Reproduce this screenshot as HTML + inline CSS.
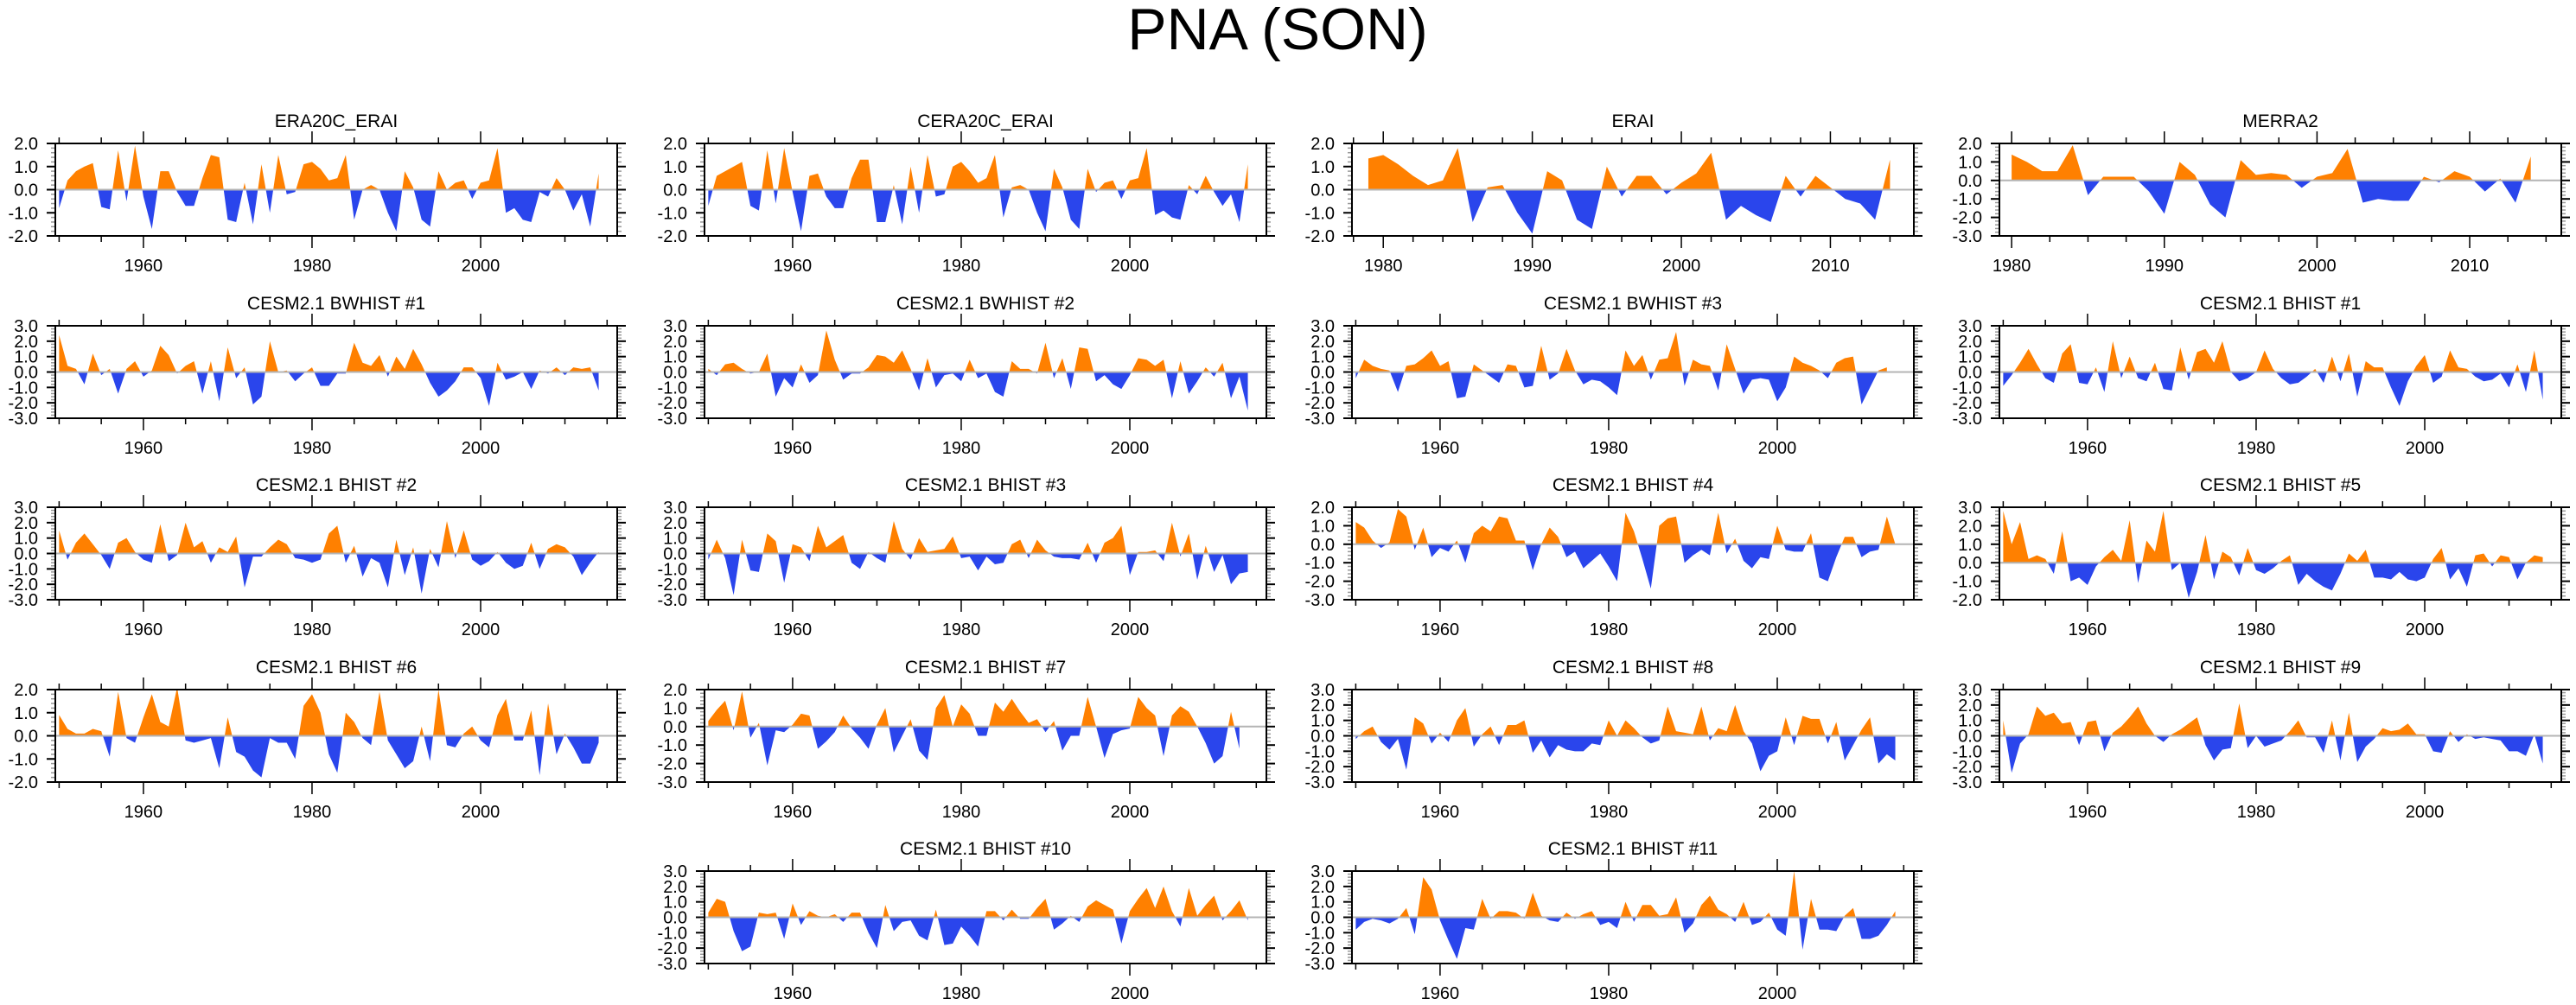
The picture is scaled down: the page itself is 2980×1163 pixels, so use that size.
<!DOCTYPE html>
<html><head><meta charset="utf-8"><title>PNA (SON)</title>
<style>
html,body{margin:0;padding:0;background:#fff;}
svg{display:block;font-family:"Liberation Sans",sans-serif;}
</style></head>
<body>
<svg id="fig" width="2980" height="1163" viewBox="0 0 2980 1163" xmlns="http://www.w3.org/2000/svg">
<rect width="2980" height="1163" fill="#fff"/>
<text x="1478" y="57" font-size="68" text-anchor="middle" fill="#000">PNA (SON)</text>
</svg>
<script>
// ---- data (one value per year) ----
const era20cYears0 = 1950;
const era20cValues = [-0.8,0.4,0.8,1.0,1.15,-0.75,-0.85,1.7,-0.5,1.9,-0.3,-1.7,0.8,0.8,-0.1,-0.7,-0.7,0.5,1.5,1.4,-1.3,-1.4,0.3,-1.5,1.1,-1.0,1.5,-0.2,-0.1,1.1,1.2,0.9,0.4,0.5,1.5,-1.3,0.0,0.2,0.0,-1.0,-1.8,0.8,0.1,-1.3,-1.6,0.8,0.0,0.3,0.4,-0.4,0.3,0.4,1.8,-1.0,-0.8,-1.3,-1.4,-0.1,-0.3,0.5,0.0,-0.9,-0.2,-1.6,0.7];
const cera20cValues = [-0.7,0.6,0.8,1.0,1.2,-0.7,-0.9,1.7,-0.6,1.8,-0.1,-1.8,0.6,0.7,-0.3,-0.8,-0.8,0.5,1.3,1.3,-1.4,-1.4,0.2,-1.5,1.0,-1.0,1.5,-0.3,-0.2,1.0,1.2,0.8,0.3,0.5,1.5,-1.2,0.1,0.2,0.0,-1.0,-1.8,0.9,0.1,-1.3,-1.7,0.9,-0.1,0.3,0.4,-0.4,0.4,0.5,1.8,-1.1,-0.9,-1.2,-1.3,0.2,-0.2,0.6,-0.1,-0.7,-0.2,-1.4,1.1];
const eraiValues = [1.35,1.5,1.1,0.6,0.2,0.4,1.8,-1.4,0.1,0.2,-1.0,-1.9,0.8,0.4,-1.3,-1.7,1.0,-0.3,0.6,0.6,-0.2,0.3,0.7,1.6,-1.3,-0.7,-1.1,-1.4,0.6,-0.3,0.6,0.1,-0.4,-0.6,-1.3,1.3];
const merra2Values = [1.4,1.0,0.5,0.5,1.9,-0.8,0.2,0.2,0.2,-0.6,-1.8,1.0,0.3,-1.3,-2.0,1.1,0.3,0.4,0.3,-0.4,0.2,0.4,1.7,-1.2,-1.0,-1.1,-1.1,0.2,-0.1,0.5,0.2,-0.6,0.1,-1.2,1.3];
const bwhist1Values = [2.4,0.4,0.2,-0.8,1.2,-0.2,0.2,-1.4,0.2,0.7,-0.3,0.1,1.7,1.1,-0.1,0.4,0.7,-1.4,0.7,-1.9,1.6,-0.4,0.3,-2.1,-1.6,2.0,0.0,0.1,-0.6,-0.1,0.3,-0.9,-0.9,-0.1,-0.1,1.9,0.6,0.4,1.1,-0.3,1.0,0.2,1.5,0.5,-0.7,-1.6,-1.2,-0.6,0.3,0.3,-0.4,-2.2,0.6,-0.5,-0.3,0.0,-1.1,0.1,-0.1,0.3,-0.2,0.3,0.2,0.3,-1.2];
const bwhist2Values = [0.2,-0.2,0.5,0.6,0.2,-0.1,0.0,1.2,-1.6,-0.4,-1.0,0.5,-0.7,-0.2,2.7,0.8,-0.5,-0.1,-0.1,0.3,1.1,1.0,0.6,1.4,0.2,-1.2,0.9,-1.0,-0.2,-0.1,-0.6,0.8,-0.4,-0.1,-1.3,-1.6,0.7,0.2,0.2,-0.1,1.9,-0.4,0.9,-1.1,1.6,1.5,-0.6,-0.2,-0.8,-1.1,-0.2,0.9,0.8,0.4,0.8,-1.7,0.7,-1.4,-0.6,0.3,-0.3,0.6,-1.7,-0.3,-2.5];
const bwhist3Values = [-0.4,0.8,0.4,0.2,0.1,-1.3,0.4,0.5,0.9,1.4,0.4,0.7,-1.7,-1.6,0.5,0.1,-0.3,-0.7,0.5,0.4,-1.0,-0.9,1.7,-0.5,-0.1,1.5,0.1,-0.8,-0.5,-0.6,-1.0,-1.5,1.4,0.4,1.1,-0.5,0.8,0.9,2.6,-0.9,0.8,0.5,0.4,-1.2,1.8,0.2,-1.4,-0.5,-0.4,-0.5,-1.9,-1.0,1.0,0.6,0.4,0.1,-0.4,0.6,0.9,1.0,-2.1,-1.0,0.1,0.3];
const bhist1Values = [-0.9,-0.2,0.6,1.5,0.5,-0.4,-0.7,1.2,1.8,-0.7,-0.8,0.3,-1.3,2.0,-0.4,1.0,-0.4,-0.6,0.6,-1.1,-1.2,1.6,-0.5,1.3,1.5,0.6,2.0,0.0,-0.6,-0.4,0.0,1.4,0.2,-0.4,-0.8,-0.7,-0.3,0.2,-0.7,1.0,-0.6,1.2,-1.6,0.7,0.3,0.3,-1.0,-2.2,-0.6,0.4,1.1,-0.7,-0.3,1.4,0.3,0.2,-0.3,-0.6,-0.5,-0.1,-1.0,0.5,-1.3,1.4,-1.8];
const bhist2Values = [1.5,-0.4,0.7,1.3,0.6,-0.1,-1.0,0.7,1.0,0.1,-0.4,-0.6,1.9,-0.5,-0.1,2.0,0.4,0.8,-0.6,0.4,0.1,1.1,-2.2,-0.2,-0.2,0.4,0.9,0.6,-0.3,-0.4,-0.6,-0.4,1.3,1.8,-0.6,0.5,-1.5,-0.3,-0.6,-2.2,0.9,-1.4,0.4,-2.6,0.3,-0.9,2.1,-0.3,1.5,-0.4,-0.8,-0.5,0.1,-0.6,-1.0,-0.8,0.7,-1.0,0.3,0.6,0.4,-0.2,-1.4,-0.6,0.1];
const bhist3Values = [-0.4,0.9,-0.3,-2.7,0.9,-1.1,-1.2,1.3,0.8,-1.9,0.6,0.4,-0.5,1.8,0.4,0.8,1.2,-0.6,-1.0,0.1,-0.3,-0.6,2.1,0.3,-0.4,1.0,0.1,0.2,0.3,1.1,-0.3,-0.2,-1.1,-0.2,-0.7,-0.6,0.6,0.9,-0.3,0.9,0.2,-0.2,-0.3,-0.3,-0.4,0.7,-0.6,0.7,1.0,1.8,-1.4,0.1,0.1,0.2,-0.5,2.0,-0.2,1.3,-1.7,0.5,-1.2,-0.1,-2.0,-1.3,-1.2];
const bhist4Values = [1.2,0.9,0.2,-0.2,0.1,1.9,1.5,-0.3,0.9,-0.7,-0.2,-0.4,0.2,-1.0,0.6,1.0,0.7,1.5,1.4,0.2,0.2,-1.4,0.0,0.9,0.4,-0.7,-0.4,-1.3,-0.9,-0.5,-1.2,-2.0,1.7,0.7,-0.8,-2.4,1.0,1.4,1.5,-1.0,-0.6,-0.3,-0.6,1.7,-0.5,0.3,-0.9,-1.3,-0.7,-0.8,1.0,-0.3,-0.4,-0.4,0.6,-1.8,-2.0,-0.7,0.4,0.4,-0.7,-0.4,-0.3,1.5,0.0];
const bhist5Values = [2.8,1.0,2.2,0.2,0.4,0.2,-0.6,1.7,-1.0,-0.8,-1.2,-0.2,0.3,0.7,0.1,2.3,-1.1,1.2,0.6,2.8,-0.4,0.0,-1.9,-0.5,1.5,-0.9,0.6,0.3,-0.7,0.8,-0.4,-0.6,-0.3,0.1,0.4,-1.2,-0.6,-1.0,-1.3,-1.5,-0.6,0.5,0.1,0.7,-0.8,-0.8,-0.9,-0.5,-0.9,-1.0,-0.8,0.2,0.8,-0.9,-0.3,-1.3,0.4,0.5,-0.2,0.4,0.3,-0.9,0.0,0.4,0.3];
const bhist6Values = [0.9,0.3,0.1,0.1,0.3,0.2,-0.9,1.9,-0.1,-0.3,0.8,1.8,0.6,0.4,2.1,-0.2,-0.3,-0.2,-0.1,-1.4,0.8,-0.7,-0.9,-1.5,-1.8,-0.1,-0.3,-0.3,-1.0,1.3,1.8,1.0,-0.8,-1.6,1.0,0.6,-0.1,-0.4,1.9,-0.2,-0.8,-1.4,-1.1,0.4,-1.1,2.0,-0.4,-0.5,0.1,0.4,-0.2,-0.5,0.9,1.6,-0.2,-0.2,1.1,-1.7,1.4,-0.8,0.1,-0.5,-1.2,-1.2,-0.3];
const bhist7Values = [0.3,0.9,1.4,-0.2,1.9,-0.6,0.2,-2.1,-0.2,-0.3,0.1,0.7,0.6,-1.2,-0.8,-0.3,0.6,-0.1,-0.6,-1.2,0.1,1.0,-1.4,-0.5,0.4,-1.3,-1.8,1.0,1.7,0.0,1.2,0.7,-0.5,-0.5,1.3,0.8,1.5,0.8,0.2,0.4,-0.3,0.3,-1.3,-0.5,-0.5,1.6,0.0,-1.7,-0.4,-0.2,-0.1,1.6,1.0,0.6,-1.6,0.6,1.1,0.8,0.0,-0.9,-2.0,-1.6,0.8,-1.2];
const bhist8Values = [-0.2,0.3,0.6,-0.4,-0.9,-0.2,-2.2,1.2,0.8,-0.5,0.2,-0.4,1.0,1.8,-0.7,0.1,0.6,-0.6,0.7,0.7,1.0,-1.1,-0.3,-1.4,-0.6,-0.9,-1.0,-1.0,-0.5,-0.6,1.0,0.0,1.0,0.5,-0.1,-0.5,-0.3,1.9,0.3,0.2,0.1,1.9,-0.3,0.5,0.3,2.0,0.3,-0.5,-2.3,-1.3,-1.0,1.2,-0.6,1.3,1.1,1.1,-0.5,0.9,-1.6,-0.6,0.4,1.2,-1.8,-1.2,-1.6];
const bhist9Values = [1.0,-2.4,-0.5,0.1,1.9,1.3,1.5,0.8,0.9,-0.6,0.9,1.0,-1.0,0.2,0.6,1.2,1.9,0.8,0.0,-0.4,0.1,0.4,0.8,1.2,-0.6,-1.6,-0.9,-0.8,2.1,-0.8,0.0,-0.7,-0.5,-0.3,0.3,1.0,-0.1,-0.1,-1.1,1.0,-1.6,1.5,-1.7,-0.7,-0.2,0.5,0.3,0.4,0.8,0.1,0.1,-1.0,-1.1,0.3,-0.4,0.1,-0.2,-0.1,-0.2,-0.3,-1.0,-1.0,-1.3,0.1,-1.8];
const bhist10Values = [0.3,1.2,1.0,-0.9,-2.2,-1.9,0.3,0.2,0.3,-1.4,0.9,-0.5,0.4,0.1,0.0,0.2,-0.3,0.3,0.3,-1.0,-2.0,0.8,-0.9,-0.3,-0.2,-1.2,-1.5,0.5,-1.8,-1.7,-0.6,-1.2,-1.9,0.4,0.4,-0.2,0.5,-0.1,-0.1,0.6,1.2,-0.8,-0.4,0.1,-0.3,0.7,1.1,0.8,0.5,-1.7,0.4,1.2,1.9,0.6,2.0,0.4,-0.6,1.9,0.1,0.8,1.4,-0.2,0.4,1.1,-0.2];
const bhist11Values = [-0.8,-0.3,-0.1,-0.2,-0.4,-0.1,0.6,-1.1,2.6,1.8,-0.2,-1.5,-2.7,-0.7,-0.8,1.2,-0.1,0.4,0.4,0.3,-0.1,1.6,0.1,-0.2,-0.3,0.3,-0.1,0.2,0.4,-0.5,-0.3,-0.7,1.0,-0.3,0.8,0.8,0.1,0.2,1.3,-1.0,-0.4,0.8,1.4,0.5,0.2,-0.3,1.0,-0.5,-0.3,0.3,-0.8,-1.2,3.0,-2.1,1.2,-0.8,-0.8,-0.9,0.1,0.6,-1.4,-1.4,-1.2,-0.5,0.4];

const longYearLabels = [1960, 1980, 2000];
const shortYearLabels = [1980, 1990, 2000, 2010];

// ---- layout ----
const colLeft = [64, 815, 1564, 2313];
const rowTop = [166, 377, 587, 798, 1008];
const PW = 650, PH = 107;
const longDomain = [1949.55, 2016.2];

const panels = [
  {name:'era20c-erai', title:'ERA20C_ERAI', row:0, col:0, vals:era20cValues, y0:1950, ymin:-2, ymax:2, dom:longDomain, labels:longYearLabels, minor:5},
  {name:'cera20c-erai', title:'CERA20C_ERAI', row:0, col:1, vals:cera20cValues, y0:1950, ymin:-2, ymax:2, dom:longDomain, labels:longYearLabels, minor:5},
  {name:'erai', title:'ERAI', row:0, col:2, vals:eraiValues, y0:1979, ymin:-2, ymax:2, dom:[1977.9, 2015.6], labels:shortYearLabels, minor:2},
  {name:'merra2', title:'MERRA2', row:0, col:3, vals:merra2Values, y0:1980, ymin:-3, ymax:2, dom:[1979.2, 2016.0], labels:shortYearLabels, minor:2.5},
  {name:'bwhist-1', title:'CESM2.1 BWHIST #1', row:1, col:0, vals:bwhist1Values, y0:1950, ymin:-3, ymax:3, dom:longDomain, labels:longYearLabels, minor:5},
  {name:'bwhist-2', title:'CESM2.1 BWHIST #2', row:1, col:1, vals:bwhist2Values, y0:1950, ymin:-3, ymax:3, dom:longDomain, labels:longYearLabels, minor:5},
  {name:'bwhist-3', title:'CESM2.1 BWHIST #3', row:1, col:2, vals:bwhist3Values, y0:1950, ymin:-3, ymax:3, dom:longDomain, labels:longYearLabels, minor:5},
  {name:'bhist-1', title:'CESM2.1 BHIST #1', row:1, col:3, vals:bhist1Values, y0:1950, ymin:-3, ymax:3, dom:longDomain, labels:longYearLabels, minor:5},
  {name:'bhist-2', title:'CESM2.1 BHIST #2', row:2, col:0, vals:bhist2Values, y0:1950, ymin:-3, ymax:3, dom:longDomain, labels:longYearLabels, minor:5},
  {name:'bhist-3', title:'CESM2.1 BHIST #3', row:2, col:1, vals:bhist3Values, y0:1950, ymin:-3, ymax:3, dom:longDomain, labels:longYearLabels, minor:5},
  {name:'bhist-4', title:'CESM2.1 BHIST #4', row:2, col:2, vals:bhist4Values, y0:1950, ymin:-3, ymax:2, dom:longDomain, labels:longYearLabels, minor:5},
  {name:'bhist-5', title:'CESM2.1 BHIST #5', row:2, col:3, vals:bhist5Values, y0:1950, ymin:-2, ymax:3, dom:longDomain, labels:longYearLabels, minor:5},
  {name:'bhist-6', title:'CESM2.1 BHIST #6', row:3, col:0, vals:bhist6Values, y0:1950, ymin:-2, ymax:2, dom:longDomain, labels:longYearLabels, minor:5},
  {name:'bhist-7', title:'CESM2.1 BHIST #7', row:3, col:1, vals:bhist7Values, y0:1950, ymin:-3, ymax:2, dom:longDomain, labels:longYearLabels, minor:5},
  {name:'bhist-8', title:'CESM2.1 BHIST #8', row:3, col:2, vals:bhist8Values, y0:1950, ymin:-3, ymax:3, dom:longDomain, labels:longYearLabels, minor:5},
  {name:'bhist-9', title:'CESM2.1 BHIST #9', row:3, col:3, vals:bhist9Values, y0:1950, ymin:-3, ymax:3, dom:longDomain, labels:longYearLabels, minor:5},
  {name:'bhist-10', title:'CESM2.1 BHIST #10', row:4, col:1, vals:bhist10Values, y0:1950, ymin:-3, ymax:3, dom:longDomain, labels:longYearLabels, minor:5},
  {name:'bhist-11', title:'CESM2.1 BHIST #11', row:4, col:2, vals:bhist11Values, y0:1950, ymin:-3, ymax:3, dom:longDomain, labels:longYearLabels, minor:5}
];

const NS = 'http://www.w3.org/2000/svg';
const svg = document.getElementById('fig');
function mk(tag, attrs, parent) {
  const e = document.createElementNS(NS, tag);
  for (const k in attrs) e.setAttribute(k, attrs[k]);
  (parent || svg).appendChild(e);
  return e;
}

panels.forEach((p, pi) => {
  const L = colLeft[p.col], T = rowTop[p.row], R = L + PW, B = T + PH;
  const xs = yr => L + (yr - p.dom[0]) / (p.dom[1] - p.dom[0]) * PW;
  const ys = v => T + (p.ymax - v) / (p.ymax - p.ymin) * PH;
  const zeroY = ys(0);

  const g = mk('g', {});
  
  

  const title = mk('text', {x: L + PW / 2, y: T - 19, 'font-size': 21, 'text-anchor': 'middle', fill: '#000'}, g);
  
  
  title.textContent = p.title;

  // clip paths
  const defs = mk('defs', {}, g);
  const cpA = mk('clipPath', {id: 'ca' + pi}, defs);
  mk('rect', {x: L, y: T, width: PW, height: zeroY - T}, cpA);
  const cpB = mk('clipPath', {id: 'cb' + pi}, defs);
  mk('rect', {x: L, y: zeroY, width: PW, height: B - zeroY}, cpB);

  let d = 'M' + xs(p.y0).toFixed(2) + ',' + zeroY.toFixed(2);
  p.vals.forEach((v, i) => { d += ' L' + xs(p.y0 + i).toFixed(2) + ',' + ys(v).toFixed(2); });
  d += ' L' + xs(p.y0 + p.vals.length - 1).toFixed(2) + ',' + zeroY.toFixed(2) + ' Z';

  const pos = mk('path', {d: d, fill: '#ff8000', 'clip-path': 'url(#ca' + pi + ')'}, g);
  
  
  const neg = mk('path', {d: d, fill: '#2a45ec', 'clip-path': 'url(#cb' + pi + ')'}, g);
  
  

  const zl = mk('line', {x1: L, x2: R, y1: zeroY, y2: zeroY, stroke: '#b4b4b4', 'stroke-width': 2}, g);
  
  

  // y ticks
  for (let v = p.ymin; v <= p.ymax + 1e-6; v += 0.2) {
    const vv = Math.round(v * 10) / 10;
    const major = Math.abs(vv - Math.round(vv)) < 1e-6;
    const y = ys(vv);
    const len = major ? 10 : 5;
    const col = major ? '#000' : '#999';
    mk('line', {x1: L - len, x2: L, y1: y, y2: y, stroke: col, 'stroke-width': major ? 2 : 1.5}, g);
    mk('line', {x1: R, x2: R + len, y1: y, y2: y, stroke: col, 'stroke-width': major ? 2 : 1.5}, g);
    if (major) {
      const t = mk('text', {x: L - 20, y: y + 7, 'font-size': 20, 'text-anchor': 'end', fill: '#000'}, g);
      
      
      t.textContent = vv.toFixed(1);
    }
  }
  // x ticks
  const startT = Math.ceil(p.dom[0] / p.minor) * p.minor;
  for (let yr = startT; yr <= p.dom[1] + 1e-6; yr += p.minor) {
    const isMajor = p.labels.indexOf(yr) >= 0;
    const x = xs(yr);
    const len = isMajor ? 14 : 7;
    mk('line', {x1: x, x2: x, y1: T - len, y2: T, stroke: '#000', 'stroke-width': 1.5}, g);
    mk('line', {x1: x, x2: x, y1: B, y2: B + len, stroke: '#000', 'stroke-width': 1.5}, g);
  }
  p.labels.forEach(yr => {
    const t = mk('text', {x: xs(yr), y: B + 41, 'font-size': 20, 'text-anchor': 'middle', fill: '#000'}, g);
    
    
    t.textContent = String(yr);
  });

  const frame = mk('rect', {x: L, y: T, width: PW, height: PH, fill: 'none', stroke: '#000', 'stroke-width': 2}, g);
  
  
});
</script>
</body></html>
